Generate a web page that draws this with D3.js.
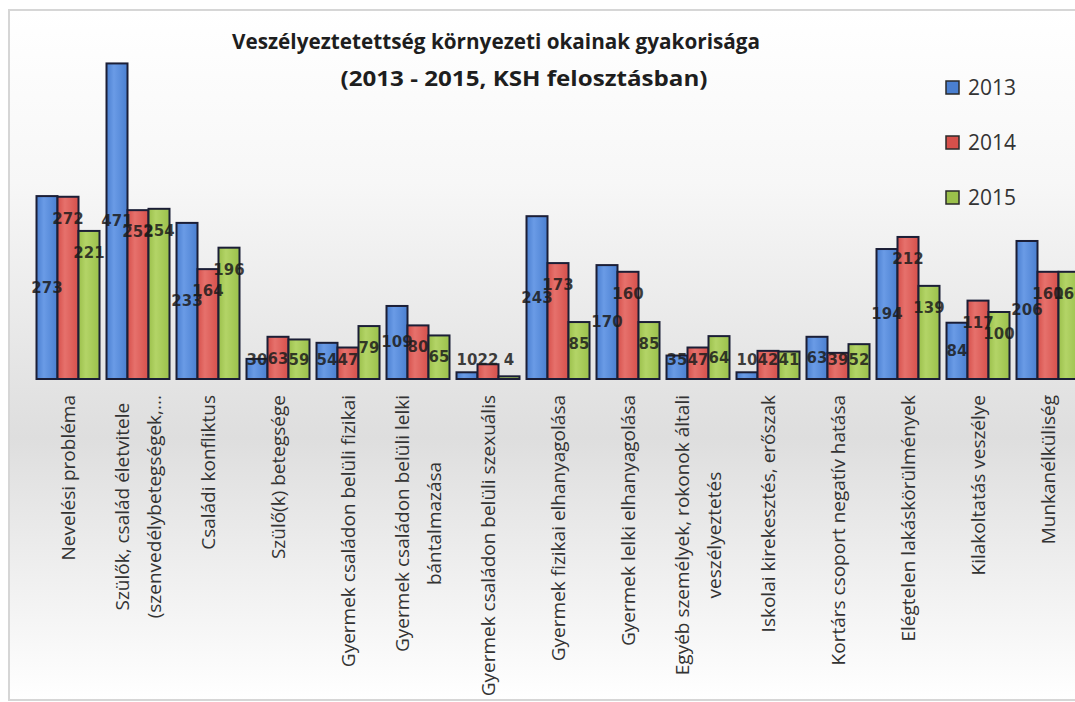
<!DOCTYPE html>
<html>
<head>
<meta charset="utf-8">
<script src="https://cdn.jsdelivr.net/npm/d3@7"></script>
<style>
  html, body { margin: 0; padding: 0; background: #ffffff; }
  svg { display: block; }
</style>
</head>
<body>
<svg id="chart" width="1075" height="702"></svg>
<script>
const categories = [
  "Nevelési probléma",
  "Szülők, család életvitele|(szenvedélybetegségek,...",
  "Családi konfliktus",
  "Szülő(k) betegsége",
  "Gyermek családon belüli fizikai",
  "Gyermek családon belüli lelki|bántalmazása",
  "Gyermek családon belüli szexuális",
  "Gyermek fizikai elhanyagolása",
  "Gyermek lelki elhanyagolása",
  "Egyéb személyek, rokonok általi|veszélyeztetés",
  "Iskolai kirekesztés, erőszak",
  "Kortárs csoport negatív hatása",
  "Elégtelen lakáskörülmények",
  "Kilakoltatás veszélye",
  "Munkanélküliség"
];
const years = ["2013", "2014", "2015"];
const values2013 = [273, 471, 233, 30, 54, 109, 10, 243, 170, 35, 10, 63, 194, 84, 206];
const values2014 = [272, 252, 164, 63, 47, 80, 22, 173, 160, 47, 42, 39, 212, 117, 160];
const values2015 = [221, 254, 196, 59, 79, 65, 4, 85, 85, 64, 41, 52, 139, 100, 160];
const titleLines = ["Veszélyeztetettség környezeti okainak gyakorisága", "(2013 - 2015, KSH felosztásban)"];

const seriesValues = [values2013, values2014, values2015];
const colors = { "2013": "#4a7fd0", "2014": "#d6504b", "2015": "#9bc04b" };
const lightColors = { "2013": "#6a9be6", "2014": "#e6716c", "2015": "#b3d467" };

const svg = d3.select("#chart");
const defs = svg.append("defs");

const bg = defs.append("linearGradient").attr("id", "bg").attr("x1", 0).attr("y1", 0).attr("x2", 0).attr("y2", 1);
bg.append("stop").attr("offset", "0%").attr("stop-color", "#ffffff");
bg.append("stop").attr("offset", "25%").attr("stop-color", "#f7f7f7");
bg.append("stop").attr("offset", "62%").attr("stop-color", "#dedede");
bg.append("stop").attr("offset", "100%").attr("stop-color", "#ffffff");

years.forEach(yr => {
  const g = defs.append("linearGradient").attr("id", "g" + yr).attr("x1", 0).attr("y1", 0).attr("x2", 1).attr("y2", 0);
  g.append("stop").attr("offset", "0%").attr("stop-color", colors[yr]);
  g.append("stop").attr("offset", "35%").attr("stop-color", lightColors[yr]);
  g.append("stop").attr("offset", "100%").attr("stop-color", colors[yr]);
});

// chart background + border
svg.append("rect")
  .attr("x", 9).attr("y", 10).attr("width", 1080).attr("height", 690)
  .attr("fill", "url(#bg)").attr("stroke", "#d6d6d6").attr("stroke-width", 2);

// title
const titleCenters = [496, 524];
const titleBaselines = [49, 86];
const titleWidths = [528, 367];
titleLines.forEach((t, i) => {
  svg.append("text")
    .attr("x", titleCenters[i]).attr("y", titleBaselines[i])
    .attr("text-anchor", "middle")
    .attr("font-family", "'Open Sans', sans-serif")
    .attr("font-weight", "bold")
    .attr("font-size", 21)
    .attr("fill", "#1e1e1e")
    .attr("textLength", titleWidths[i])
    .attr("lengthAdjust", "spacingAndGlyphs")
    .text(t);
});

// scales
const x0 = d3.scaleBand().domain(categories).range([33, 1083]).paddingInner(0.1).paddingOuter(0.05);
const x1 = d3.scaleBand().domain(years).range([0, x0.bandwidth()]).padding(0);
const y = d3.scaleLinear().domain([0, 500]).range([379, 44]);

const data = categories.map((c, i) => ({
  cat: c,
  vals: years.map((yr, k) => ({ yr, k, v: seriesValues[k][i] }))
}));

const groups = svg.append("g").selectAll("g").data(data).join("g")
  .attr("transform", d => `translate(${x0(d.cat)},0)`);

groups.selectAll("rect").data(d => d.vals).join("rect")
  .attr("x", d => x1(d.yr))
  .attr("y", d => y(d.v))
  .attr("width", x1.bandwidth())
  .attr("height", d => y(0) - y(d.v))
  .attr("fill", d => `url(#g${d.yr})`)
  .attr("stroke", "#1b1e36")
  .attr("stroke-width", 2);

// data labels
groups.selectAll("text.lbl").data(d => d.vals).join("text")
  .attr("class", "lbl")
  .attr("x", d => x1(d.yr) + x1.bandwidth() / 2)
  .attr("y", d => {
    const yy = d.k === 0 ? y(d.v / 2) : y(d.v) + 22;
    return Math.min(yy, 360);
  })
  .attr("text-anchor", "middle")
  .attr("dominant-baseline", "central")
  .attr("font-family", "'DejaVu Sans', sans-serif")
  .attr("font-weight", "bold")
  .attr("font-size", 15)
  .attr("fill", "#1c1c1c")
  .attr("fill-opacity", 0.85)
  .text(d => d.v);

// category labels (rotated, multi-line, centered block)
const labTop = 395;
const lineGap = 32;
data.forEach(d => {
  const lines = d.cat.split("|");
  const cx = x0(d.cat) + x0.bandwidth() / 2;
  const g = svg.append("g");
  const texts = lines.map((ln, i) => g.append("text")
    .attr("text-anchor", "middle")
    .attr("dominant-baseline", "central")
    .attr("font-family", "'Open Sans', sans-serif")
    .attr("font-size", 19)
    .attr("fill", "#333333")
    .attr("x", 0)
    .attr("y", (i - (lines.length - 1) / 2) * lineGap)
    .text(ln));
  const maxLen = d3.max(texts, t => t.node().getComputedTextLength());
  g.attr("transform", `translate(${cx},${labTop + maxLen / 2}) rotate(-90)`);
});

// legend
const legend = svg.append("g").selectAll("g").data(years).join("g")
  .attr("transform", (d, i) => `translate(946,${81 + i * 55})`);
legend.append("rect")
  .attr("width", 13).attr("height", 13)
  .attr("fill", d => colors[d])
  .attr("stroke", "#2a2a2a").attr("stroke-width", 1.5);
legend.append("text")
  .attr("x", 22).attr("y", 14)
  .attr("font-family", "'Open Sans', sans-serif")
  .attr("font-size", 21)
  .attr("fill", "#333333")
  .text(d => d);
</script>
</body>
</html>
